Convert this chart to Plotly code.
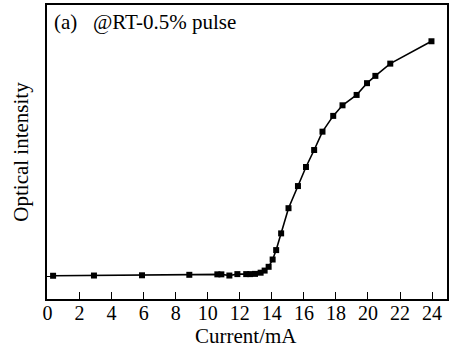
import plotly.graph_objects as go

current_mA = [0.35, 2.9, 5.9, 8.85, 10.6, 10.85, 11.35, 11.85, 12.4, 12.65, 12.95,
              13.3, 13.55, 13.8, 14.05, 14.27, 14.58, 15.04, 15.63, 16.13, 16.64,
              17.16, 17.83, 18.41, 19.29, 19.94, 20.46, 21.39, 23.96]
intensity = [0.004, 0.005, 0.006, 0.008, 0.010, 0.010, 0.005, 0.011, 0.011, 0.011, 0.012,
             0.017, 0.026, 0.042, 0.073, 0.113, 0.184, 0.291, 0.385, 0.466, 0.538,
             0.616, 0.683, 0.728, 0.772, 0.822, 0.853, 0.905, 1.0]
x_ticks = list(range(0, 25, 2))

FONT = "Liberation Serif, Times New Roman, serif"

fig = go.Figure()
fig.add_trace(go.Scatter(
    x=current_mA, y=intensity, mode="lines+markers",
    line=dict(color="black", width=1.6),
    marker=dict(symbol="square", size=6, color="black"),
    showlegend=False,
))

fig.add_annotation(text="(a)", x=0.013, y=0.99, xref="paper", yref="paper",
                   xanchor="left", yanchor="top", showarrow=False,
                   font=dict(family=FONT, size=21, color="black"))
fig.add_annotation(text="@RT-0.5% pulse", x=0.111, y=0.99, xref="paper", yref="paper",
                   xanchor="left", yanchor="top", showarrow=False,
                   font=dict(family=FONT, size=21, color="black"))
fig.add_annotation(text="Current/mA", x=0.4975, y=-0.125, xref="paper", yref="paper",
                   xanchor="center", yanchor="middle", showarrow=False,
                   font=dict(family=FONT, size=21, color="black"))

fig.update_layout(
    width=450, height=347,
    margin=dict(l=47, r=3, t=5, b=48, autoexpand=False),
    paper_bgcolor="white", plot_bgcolor="white",
    font=dict(family=FONT, size=20, color="black"),
    xaxis=dict(
        range=[-0.03, 24.93], tickvals=x_ticks, ticks="inside", ticklen=7,
        tickwidth=1.3, tickcolor="black", showgrid=False, zeroline=False,
        showline=True, linecolor="black", linewidth=1.5, mirror=True,
        automargin=False, ticklabelstandoff=-5,
        tickfont=dict(family=FONT, size=20),
    ),
    yaxis=dict(
        range=[-0.0947, 1.154], tickvals=[0], ticktext=[""], ticks="inside",
        ticklen=6, tickwidth=1.3, tickcolor="black", showgrid=False, zeroline=False,
        showline=True, linecolor="black", linewidth=1.5, mirror=True,
        automargin=False,
        title=dict(text="Optical intensity", font=dict(family=FONT, size=21), standoff=7),
    ),
)

fig.write_html("out.html")
